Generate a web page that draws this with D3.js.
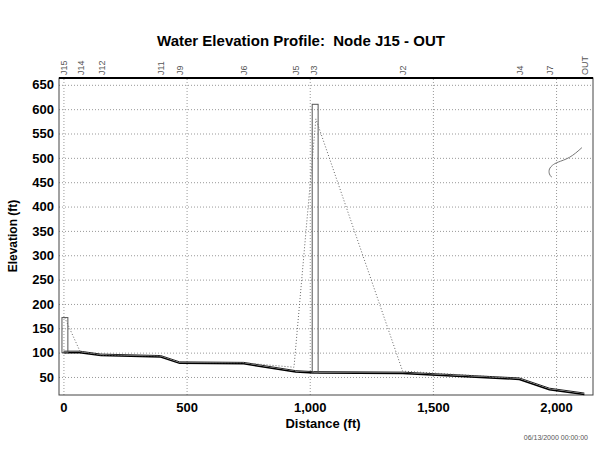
<!DOCTYPE html>
<head>
    <script type="text/javascript" src="https://d3js.org/d3.v7.min.js"></script>
    <style>
        body { margin: 0; background: #fff; }
        .chart text { font-family: Arial, "Liberation Sans", sans-serif; fill: #000; }
        .grid line { stroke: #999; stroke-dasharray: 1,2; }
        .grid path { display: none; }
    </style>
</head>

<svg class="chart" width="599" height="457"></svg>

<script>

    // node names and their distance along the profile (ft)
    var nodes = ["J15", "J14", "J12", "J11", "J9", "J6", "J5", "J3", "J2", "J4", "J7", "OUT"];
    var distance = [0, 67, 152, 395, 472, 732, 943, 1016, 1377, 1851, 1973, 2115];
    // invert elevation at each node (ft)
    var invert = [100, 100, 94, 91, 78, 77, 60, 58, 57, 45, 24, 14];
    // manholes drawn as boxes: node index, rim
    var manholeNode = [0, 7];
    var manholeRim = [172, 610];
    // water surface (dotted) J15 .. J4
    var waterDist = [5, 67, 152, 395, 472, 732, 936, 1025, 1377, 1851];
    var waterElev = [172, 103, 95, 93, 80, 79, 70, 580, 62, 47];
    // small piece of water line near OUT
    var tailDist = [2105, 2056, 2003, 1985, 1971, 1971, 1983];
    var tailElev = [521, 499, 491, 485, 478, 466, 460];

    var yTicks = [50, 100, 150, 200, 250, 300, 350, 400, 450, 500, 550, 600, 650];
    var xTicks = [0, 500, 1000, 1500, 2000];

    var pLeft = 59, pRight = 593, pTop = 78, pBottom = 395;

    var svg = d3.select(".chart");

    var x = d3.scaleLinear().domain([-18, 2150]).range([pLeft, pRight]);
    var y = d3.scaleLinear().domain([13, 664]).range([pBottom, pTop]);

    // grid
    svg.append("g")
        .attr("class", "grid")
        .attr("transform", "translate(" + pLeft + ",0)")
        .call(d3.axisLeft(y).tickValues(yTicks).tickSize(-(pRight - pLeft)).tickFormat(""));
    svg.append("g")
        .attr("class", "grid")
        .attr("transform", "translate(0," + pBottom + ")")
        .call(d3.axisBottom(x).tickValues(xTicks).tickSize(-(pBottom - pTop)).tickFormat(""));

    // frame
    svg.append("rect")
        .attr("x", pLeft).attr("y", pTop)
        .attr("width", pRight - pLeft).attr("height", pBottom - pTop)
        .attr("fill", "none").attr("stroke", "#444").attr("stroke-width", 1);
    svg.append("line")
        .attr("x1", pLeft).attr("x2", pRight).attr("y1", pTop).attr("y2", pTop)
        .attr("stroke", "#000").attr("stroke-width", 2);

    // y axis labels
    var yAxis = svg.append("g")
        .attr("transform", "translate(" + pLeft + ",0)")
        .call(d3.axisLeft(y).tickValues(yTicks).tickSize(0).tickPadding(5));
    yAxis.select(".domain").remove();
    yAxis.selectAll("text").style("font-size", "13px").style("font-weight", "bold");

    // x axis labels
    var xAxis = svg.append("g")
        .attr("transform", "translate(0," + pBottom + ")")
        .call(d3.axisBottom(x).tickValues(xTicks).tickSize(0).tickPadding(8)
            .tickFormat(d3.format(",")));
    xAxis.select(".domain").remove();
    xAxis.selectAll("text").style("font-size", "13px").style("font-weight", "bold");

    // node names on top
    var topAxis = svg.append("g")
        .attr("transform", "translate(0," + pTop + ")")
        .call(d3.axisTop(x).tickValues(distance).tickSize(0)
            .tickFormat(function(d, i) { return nodes[i]; }));
    topAxis.select(".domain").remove();
    topAxis.selectAll("text")
        .attr("transform", "rotate(-90)")
        .attr("x", 3).attr("y", 0).attr("dy", ".35em")
        .style("text-anchor", "start")
        .style("font-size", "9px")
        .style("fill", "#555");

    var pipe = d3.range(nodes.length).map(function(i) { return [distance[i], invert[i]]; });
    var line = d3.line()
        .x(function(d) { return x(d[0]); })
        .y(function(d) { return y(d[1]); });

    // pipe invert and crown
    svg.append("path")
        .datum(pipe)
        .attr("fill", "none").attr("stroke", "#000").attr("stroke-width", 1.5)
        .attr("d", line);
    svg.append("path")
        .datum(pipe.map(function(d) { return [d[0], d[1] + 3]; }))
        .attr("fill", "none").attr("stroke", "#222").attr("stroke-width", 1)
        .attr("d", line);

    // manholes
    svg.selectAll(".mh")
        .data(manholeNode)
        .enter().append("rect")
        .attr("class", "mh")
        .attr("x", function(d) { return x(distance[d] - 6); })
        .attr("width", function(d) { return x(18) - x(-6); })
        .attr("y", function(d, i) { return y(manholeRim[i]); })
        .attr("height", function(d, i) { return y(invert[d]) - y(manholeRim[i]); })
        .attr("fill", "none").attr("stroke", "#555").attr("stroke-width", 1);

    // water surface
    svg.append("path")
        .datum(waterDist.map(function(d, i) { return [d, waterElev[i]]; }))
        .attr("fill", "none").attr("stroke", "#666").attr("stroke-width", 1)
        .attr("stroke-dasharray", "1,2")
        .attr("d", line);
    svg.append("path")
        .datum(tailDist.map(function(d, i) { return [d, tailElev[i]]; }))
        .attr("fill", "none").attr("stroke", "#777").attr("stroke-width", 1)
        .attr("d", d3.line().curve(d3.curveBasis)
            .x(function(d) { return x(d[0]); })
            .y(function(d) { return y(d[1]); }));

    // titles
    svg.append("text")
        .attr("x", 301).attr("y", 46)
        .attr("text-anchor", "middle")
        .style("font-size", "15px").style("font-weight", "bold")
        .style("white-space", "pre")
        .text("Water Elevation Profile:  Node J15 - OUT");

    svg.append("text")
        .attr("x", 323).attr("y", 428)
        .attr("text-anchor", "middle")
        .style("font-size", "13px").style("font-weight", "bold")
        .text("Distance (ft)");

    svg.append("text")
        .attr("transform", "translate(17,236) rotate(-90)")
        .attr("text-anchor", "middle")
        .style("font-size", "12px").style("font-weight", "bold")
        .text("Elevation (ft)");

    svg.append("text")
        .attr("x", 588).attr("y", 440)
        .attr("text-anchor", "end")
        .style("font-size", "7px")
        .style("fill", "#555")
        .text("06/13/2000 00:00:00");

</script>
